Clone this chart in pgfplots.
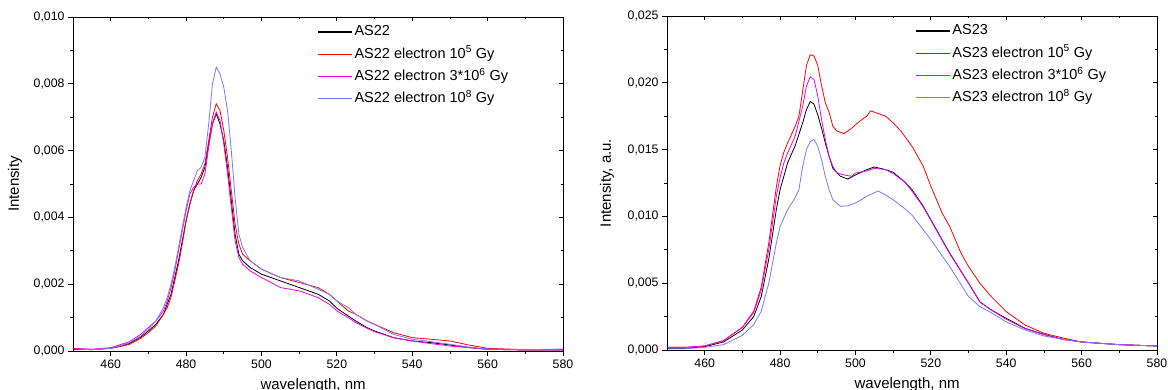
\documentclass[border=0pt]{standalone}
\usepackage{fontspec}
\setmainfont{Liberation Sans}
\usepackage{pgfplots}
\pgfplotsset{compat=1.18}
\definecolor{myblue}{RGB}{120,120,255}
\definecolor{mymag}{RGB}{240,0,240}
\pgfplotsset{
  spec/.style={
    scale only axis, width=490pt, height=334pt,
    xmin=450, xmax=580, ymin=0,
    xtick={460,480,...,580}, minor x tick num=1, minor y tick num=1,
    tick align=outside, xtick pos=left, ytick pos=left,
    major tick length=5pt, minor tick length=3pt,
    tick label style={font=\fontsize{12.3}{14}\selectfont},
    label style={font=\fontsize{15}{17}\selectfont},
    /pgf/number format/assume math mode=true,
    yticklabel style={/pgf/number format/fixed, /pgf/number format/fixed zerofill, /pgf/number format/precision=3, /pgf/number format/use comma},
    scaled y ticks=false,
    axis line style={line width=0.9pt},
    every tick/.style={line width=0.8pt, black},
    legend cell align=left,
    legend style={draw=none, fill=none, font=\fontsize{14.5}{16}\selectfont, anchor=north west, inner sep=0pt, row sep=6.3pt, nodes={inner xsep=2pt, inner ysep=1pt, text height=11pt, text depth=3pt}},
    xlabel style={at={(axis description cs:0.49,-0.114)}, anchor=base},
  },
  mirror/.style={
    scale only axis, width=490pt, height=334pt,
    xmin=450, xmax=580, ymin=0,
    xtick={460,480,...,580}, minor x tick num=1, minor y tick num=1,
    tick align=inside, xtick pos=right, ytick pos=right,
    major tick length=4pt, minor tick length=2.5pt,
    scaled ticks=false,
    xticklabels={}, yticklabels={},
    axis line style={line width=0.9pt},
    every tick/.style={line width=0.8pt, black},
  }
}
\begin{document}
\begin{tikzpicture}
\useasboundingbox (0,0) rectangle (1168pt,390pt);
% ---------------- left ----------------
\begin{axis}[spec, at={(73pt,39pt)}, anchor=south west, ymax=0.010, ytick={0,0.002,...,0.0101},
  ylabel={Intensity}, xlabel={wavelength, nm},
  ylabel style={at={(axis description cs:-0.1184,0.5)}, anchor=center},
  legend style={at={(axis description cs:0.498,0.98)}},
  legend image code/.code={\draw[#1,line width=1.3pt] (0pt,0pt) -- (34pt,0pt);}]
\addplot[black, line width=0.8pt] coordinates {(450,0.00005) (455,0.00004) (460,0.00008) (463,0.00015) (465,0.00023) (468,0.00042) (470,0.0006) (472,0.0008) (474,0.0011) (475,0.0014) (476,0.0017) (477,0.0022) (478,0.0027) (479,0.0033) (480,0.0039) (481,0.0044) (482,0.0048) (483,0.0050) (484,0.0052) (485,0.0055) (486,0.0062) (487,0.0068) (488,0.0071) (489,0.0068) (490,0.0063) (491,0.0055) (492,0.0045) (493,0.0035) (494,0.0029) (495,0.0027) (497,0.0025) (500,0.0023) (505,0.0021) (510,0.0019) (515,0.0017) (518,0.0015) (520,0.00128) (523,0.00105) (525,0.0009) (528,0.0007) (530,0.0006) (535,0.0004) (540,0.0003) (545,0.00025) (550,0.00018) (555,0.0001) (560,0.00005) (570,0.00003) (580,0.00003)};
\addlegendentry{AS22}
\addplot[red, line width=0.8pt] coordinates {(450,0.00007) (455,0.00005) (460,0.00008) (465,0.0002) (468,0.00038) (470,0.00055) (472,0.00075) (474,0.0011) (475,0.0013) (476,0.0016) (477,0.0021) (478,0.0026) (479,0.0032) (480,0.0039) (481,0.0044) (482,0.0048) (483,0.0051) (484,0.0053) (485,0.0056) (486,0.0063) (487,0.0070) (488,0.0074) (489,0.0072) (490,0.0066) (491,0.0058) (492,0.0048) (493,0.0038) (494,0.0032) (495,0.0029) (497,0.0027) (500,0.00245) (505,0.0022) (510,0.00205) (515,0.0019) (518,0.0017) (520,0.0015) (523,0.0012) (525,0.0011) (528,0.0009) (530,0.0008) (535,0.00055) (540,0.0004) (545,0.00035) (550,0.0003) (555,0.00018) (560,0.00008) (570,0.00004) (580,0.00004)};
\addlegendentry{AS22 electron 10\textsuperscript{5} Gy}
\addplot[mymag, line width=0.8pt] coordinates {(450,0.00008) (455,0.00005) (460,0.0001) (465,0.00028) (468,0.0005) (470,0.0007) (472,0.0009) (474,0.0012) (475,0.0015) (476,0.0019) (477,0.0024) (478,0.003) (479,0.0036) (480,0.0042) (481,0.0047) (482,0.0049) (483,0.0050) (484,0.0050) (485,0.0053) (486,0.0061) (487,0.0068) (488,0.00715) (489,0.0069) (490,0.0062) (491,0.0053) (492,0.0043) (493,0.0033) (494,0.0028) (495,0.0026) (497,0.0024) (500,0.0022) (505,0.0019) (510,0.0018) (515,0.0016) (518,0.0014) (520,0.0012) (523,0.001) (525,0.00085) (528,0.00068) (530,0.00058) (535,0.0004) (540,0.0003) (545,0.00022) (550,0.00015) (555,0.0001) (560,0.00005) (570,0.00003) (580,0.00003)};
\addlegendentry{AS22 electron 3*10\textsuperscript{6} Gy}
\addplot[myblue, line width=0.8pt] coordinates {(450,0.00006) (455,0.00004) (460,0.00008) (465,0.00025) (468,0.00045) (470,0.00065) (472,0.0009) (474,0.0013) (475,0.0016) (476,0.002) (477,0.0025) (478,0.0031) (479,0.0037) (480,0.0043) (481,0.0048) (482,0.0051) (483,0.0054) (484,0.0055) (485,0.0058) (486,0.0068) (487,0.0080) (488,0.0085) (489,0.0083) (490,0.0079) (491,0.0072) (492,0.0060) (493,0.0046) (494,0.0035) (495,0.0031) (497,0.0027) (500,0.00245) (505,0.0022) (510,0.0021) (515,0.00185) (518,0.0017) (520,0.0015) (523,0.0013) (525,0.0011) (528,0.0009) (530,0.0008) (535,0.0005) (540,0.00035) (545,0.00028) (550,0.0002) (555,0.00012) (560,0.00006) (570,0.00004) (580,0.00006)};
\addlegendentry{AS22 electron 10\textsuperscript{8} Gy}
\end{axis}
\begin{axis}[mirror, at={(73pt,39pt)}, anchor=south west, ymax=0.010, ytick={0,0.002,...,0.0101}]
\end{axis}
% ---------------- right ----------------
\begin{axis}[spec, at={(667pt,40pt)}, anchor=south west, ymax=0.025, ytick={0,0.005,...,0.0251},
  ylabel={Intensity, a.u.}, xlabel={wavelength, nm},
  ylabel style={at={(axis description cs:-0.1224,0.5)}, anchor=center},
  legend style={at={(axis description cs:0.506,0.98)}},
  legend image code/.code={\draw[#1,line width=1.3pt] (0pt,0pt) -- (34pt,0pt);}]
\addplot[black, line width=0.8pt] coordinates {(450,0.0001) (455,0.00012) (460,0.00025) (465,0.0006) (470,0.0015) (473,0.0025) (475,0.004) (477,0.0068) (479,0.0105) (480,0.012) (482,0.014) (484,0.0153) (486,0.017) (487,0.0180) (488,0.0186) (489,0.0184) (490,0.0176) (491,0.0166) (492,0.0155) (493,0.0145) (494,0.0136) (496,0.013) (498,0.0128) (500,0.0131) (503,0.0135) (505,0.0137) (508,0.0135) (510,0.0133) (513,0.0126) (515,0.012) (518,0.01075) (520,0.00975) (525,0.00725) (530,0.005) (533,0.0036) (536,0.003) (540,0.00237) (545,0.00162) (550,0.00117) (555,0.0008) (560,0.0006) (570,0.0004) (580,0.0003)};
\addlegendentry{AS23}
\addplot[red, line width=0.8pt] coordinates {(450,0.0002) (455,0.0002) (460,0.0003) (465,0.0007) (470,0.0017) (473,0.0029) (475,0.0047) (477,0.008) (479,0.0122) (480,0.0138) (481,0.0148) (482,0.0155) (484,0.01675) (485,0.0175) (486,0.0194) (487,0.0213) (488,0.0221) (489,0.022) (490,0.0213) (491,0.0198) (492,0.0185) (493,0.0178) (494,0.01675) (495,0.0164) (497,0.0162) (499,0.0166) (501,0.0171) (503,0.0175) (504,0.0179) (506,0.0177) (508,0.0175) (510,0.017) (512,0.0164) (515,0.01525) (518,0.01375) (520,0.01225) (523,0.01025) (525,0.00925) (528,0.00725) (530,0.00625) (533,0.0050) (536,0.0040) (540,0.00287) (545,0.00187) (550,0.00125) (555,0.0009) (560,0.0006) (570,0.0004) (580,0.0003)};
\addlegendentry{AS23 electron 10\textsuperscript{5} Gy}
\addplot[mymag, line width=0.8pt] coordinates {(450,0.0002) (455,0.0002) (460,0.0003) (465,0.0007) (470,0.0017) (473,0.0028) (475,0.0045) (477,0.0075) (479,0.0115) (480,0.0129) (481,0.0140) (482,0.01475) (484,0.016) (486,0.01825) (487,0.01975) (488,0.02045) (489,0.02025) (490,0.019) (491,0.01725) (492,0.01575) (493,0.0145) (494,0.01375) (495,0.01325) (497,0.0131) (499,0.013) (500,0.01325) (503,0.0134) (505,0.0136) (508,0.0135) (510,0.0132) (513,0.0126) (515,0.0119) (518,0.0107) (520,0.0097) (525,0.0072) (530,0.005) (533,0.0036) (536,0.003) (540,0.0023) (545,0.0016) (550,0.00115) (555,0.0008) (560,0.0006) (570,0.0004) (580,0.0003)};
\addlegendentry{AS23 electron 3*10\textsuperscript{6} Gy}
\addplot[myblue, line width=0.8pt] coordinates {(450,0.0001) (455,0.0001) (460,0.0002) (465,0.0004) (470,0.0011) (473,0.0019) (475,0.0029) (477,0.005) (479,0.008) (480,0.00925) (482,0.0105) (484,0.0114) (485,0.012) (486,0.01375) (487,0.015) (488,0.0156) (489,0.01575) (490,0.01525) (491,0.01425) (492,0.013) (493,0.012) (494,0.01125) (496,0.01075) (498,0.0108) (500,0.011) (503,0.0115) (506,0.0119) (508,0.0116) (510,0.01125) (513,0.0106) (515,0.0101) (518,0.009) (520,0.00825) (525,0.00625) (530,0.004) (533,0.00325) (536,0.0028) (540,0.0021) (545,0.0015) (550,0.00105) (555,0.0008) (560,0.0006) (570,0.0004) (580,0.0003)};
\addlegendentry{AS23 electron 10\textsuperscript{8} Gy}
\end{axis}
\begin{axis}[mirror, at={(667pt,40pt)}, anchor=south west, ymax=0.025, ytick={0,0.005,...,0.0251}]
\end{axis}
\end{tikzpicture}
\end{document}
